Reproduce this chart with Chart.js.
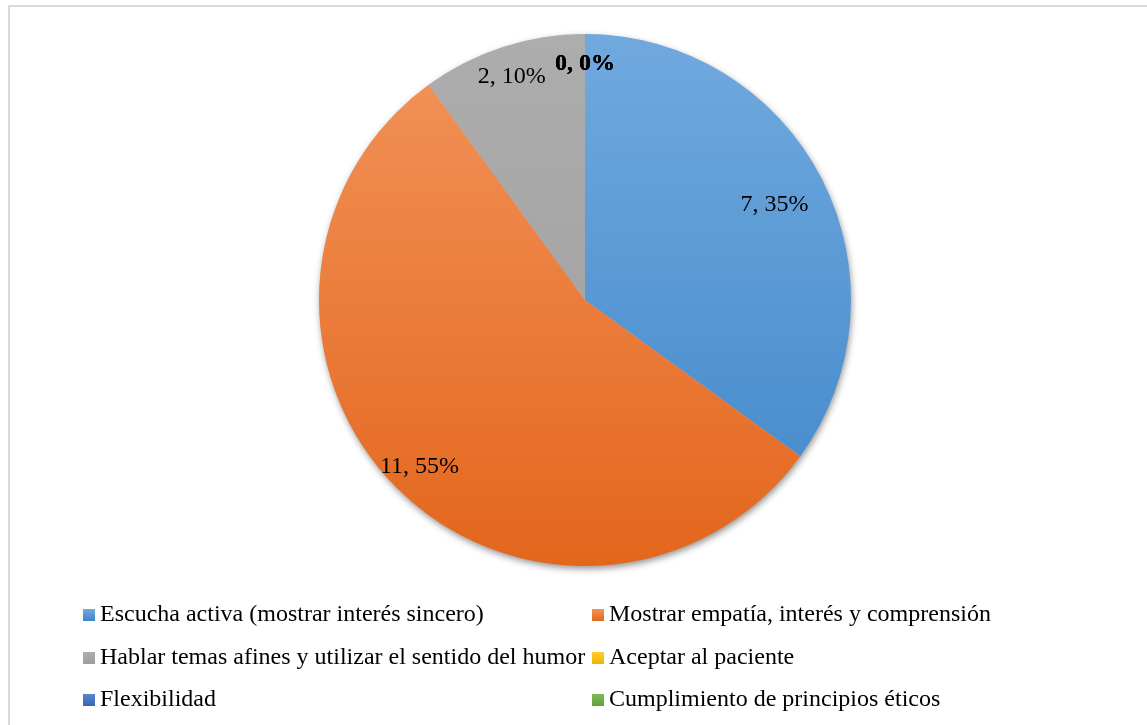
<!DOCTYPE html>
<html>
<head>
<meta charset="utf-8">
<script src="https://cdn.jsdelivr.net/npm/chart.js@4"></script>
<style>
  html, body { margin: 0; padding: 0; background: #fff; overflow: hidden; }
  #wrap { position: relative; width: 1147px; height: 725px; }
  #frame { position: absolute; left: 8px; top: 5px; width: 1200px; height: 800px; border: 2px solid #d9d9d9; box-sizing: border-box; }
  canvas { position: absolute; left: 0; top: 0; }
</style>
</head>
<body>
<div id="wrap">
  <div id="frame"></div>
  <canvas id="c" width="1147" height="725"></canvas>
</div>
<script>
const categories = [
  "Escucha activa (mostrar interés sincero)",
  "Mostrar empatía, interés y comprensión",
  "Hablar temas afines y utilizar el sentido del humor",
  "Aceptar al paciente",
  "Flexibilidad",
  "Cumplimiento de principios éticos"
];
const values = [7, 11, 2, 0, 0, 0];
const baseColors = ["#5b9bd5", "#ed7d31", "#a5a5a5", "#ffc000", "#4472c4", "#70ad47"];
const topColors = ["#71a9de", "#f3945c", "#adadad", "#ffcd33", "#5a86d0", "#80bb59"];
const bottomColors = ["#3f87ca", "#e3661c", "#9d9d9d", "#f0b400", "#3a64b3", "#629e3c"];

const total = values.reduce((a, b) => a + b, 0);
const FONT = '"Liberation Serif", "Times New Roman", serif';

function sliceFill(ctx) {
  const chart = ctx.chart;
  const ca = chart.chartArea;
  if (!ca) return baseColors[ctx.dataIndex];
  const g = chart.ctx.createLinearGradient(0, ca.top, 0, ca.bottom);
  g.addColorStop(0, topColors[ctx.dataIndex]);
  g.addColorStop(1, bottomColors[ctx.dataIndex]);
  return g;
}

const shadowPlugin = {
  id: 'shadowPlugin',
  beforeDatasetsDraw(chart) {
    const meta = chart.getDatasetMeta(0);
    const arc = meta.data[0];
    if (!arc) return;
    const c = chart.ctx;
    c.save();
    c.shadowColor = 'rgba(0,0,0,0.45)';
    c.shadowBlur = 7;
    c.shadowOffsetX = 1;
    c.shadowOffsetY = 3;
    c.fillStyle = '#bbbbbb';
    c.beginPath();
    c.arc(arc.x, arc.y, arc.outerRadius - 0.5, 0, Math.PI * 2);
    c.fill();
    c.restore();
  }
};

const labelPlugin = {
  id: 'labelPlugin',
  afterDatasetsDraw(chart, args, opts) {
    const c = chart.ctx;
    const meta = chart.getDatasetMeta(0);
    c.save();
    c.fillStyle = '#000';
    c.textAlign = 'center';
    c.textBaseline = 'alphabetic';
    meta.data.forEach((arc, i) => {
      const v = values[i];
      const pct = Math.round(v / total * 100);
      const mid = (arc.startAngle + arc.endAngle) / 2;
      const r = arc.outerRadius * opts.radius[i];
      const x = arc.x + Math.cos(mid) * r;
      const y = arc.y + Math.sin(mid) * r;
      c.font = (v === 0 ? 'bold ' : '') + opts.size + 'px ' + FONT;
      c.fillText(v + ', ' + pct + '%', x, y + opts.size * 0.33);
    });
    c.restore();
  }
};

const legendPlugin = {
  id: 'legendPlugin',
  afterDraw(chart, args, opts) {
    const c = chart.ctx;
    c.save();
    c.font = opts.size + 'px ' + FONT;
    c.textAlign = 'left';
    c.textBaseline = 'alphabetic';
    const s = opts.box;
    categories.forEach((name, i) => {
      const col = i % 2, row = Math.floor(i / 2);
      const mx = opts.colX[col];
      const base = opts.baseY[row];
      const g = c.createLinearGradient(0, base - s, 0, base);
      g.addColorStop(0, topColors[i]);
      g.addColorStop(1, bottomColors[i]);
      c.fillStyle = g;
      c.fillRect(mx, base - s, s, s);
      c.fillStyle = '#000';
      c.fillText(name, mx + s + 5, base);
    });
    c.restore();
  }
};

new Chart(document.getElementById('c'), {
  type: 'pie',
  data: {
    labels: categories,
    datasets: [{
      data: values,
      backgroundColor: sliceFill,
      borderWidth: 0
    }]
  },
  options: {
    responsive: false,
    animation: false,
    layout: { padding: { top: 34, bottom: 159, left: 319, right: 296 } },
    plugins: {
      legend: { display: false },
      tooltip: { enabled: false },
      labelPlugin: { size: 24, radius: [0.80, 0.88, 0.89, 0.895, 0.895, 0.895] },
      legendPlugin: { size: 24, box: 12, colX: [83, 592], baseY: [621, 664, 706] }
    }
  },
  plugins: [shadowPlugin, labelPlugin, legendPlugin]
});
</script>
</body>
</html>
